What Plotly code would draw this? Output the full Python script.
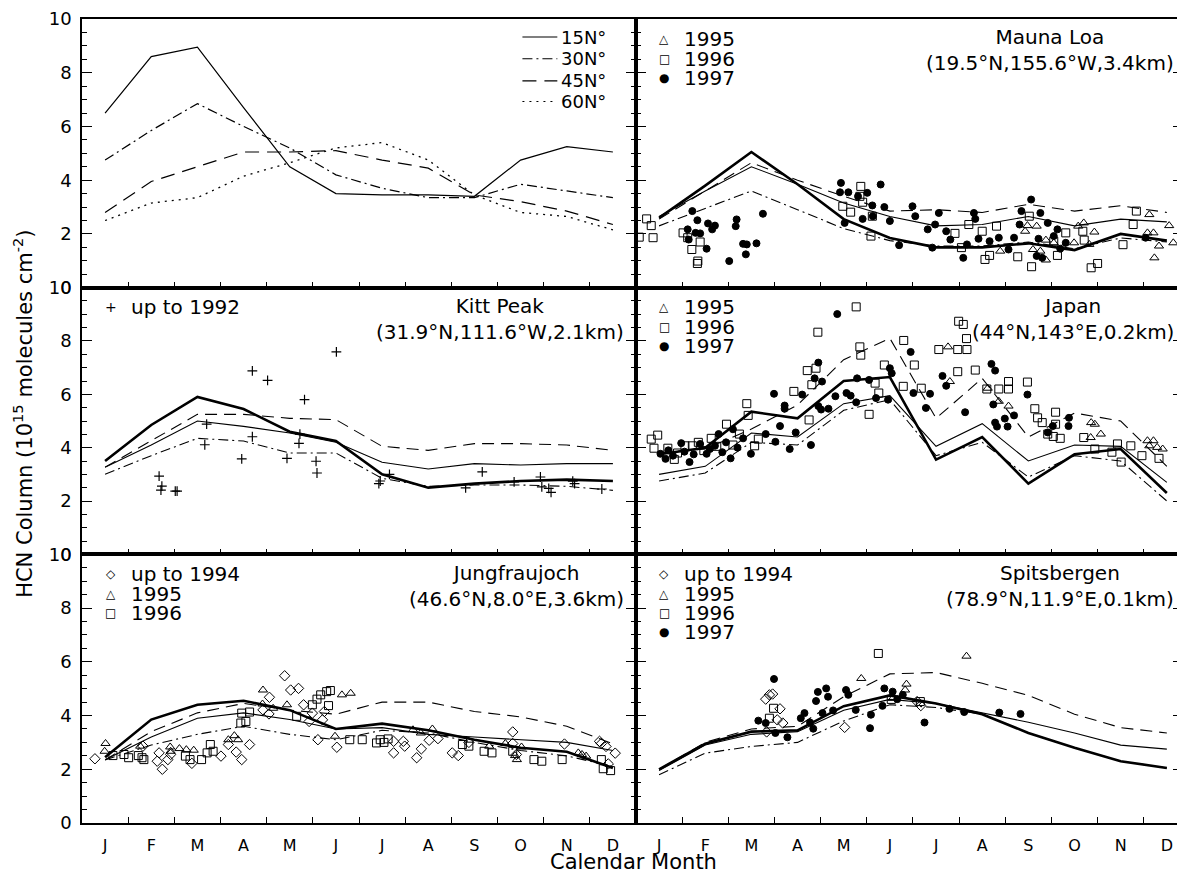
import plotly.graph_objects as go
from plotly.subplots import make_subplots

months = list(range(1, 13))
month_labels = ["J", "F", "M", "A", "M", "J", "J", "A", "S", "O", "N", "D"]
boundaries = [m + 0.5 for m in range(1, 12)]

# ---- Panel 1: model columns at four latitudes ----
lat_names = ["15N°", "30N°", "45N°", "60N°"]
lat15 = [6.5, 8.6, 8.95, 6.7, 4.5, 3.5, 3.45, 3.45, 3.4, 4.75, 5.25, 5.05]
lat30 = [4.75, 5.85, 6.85, 6.0, 5.2, 4.2, 3.7, 3.35, 3.35, 3.85, 3.6, 3.35]
lat45 = [2.8, 3.95, 4.5, 5.05, 5.05, 5.1, 4.75, 4.45, 3.45, 3.2, 2.85, 2.35]
lat60 = [2.5, 3.15, 3.35, 4.15, 4.65, 5.2, 5.4, 4.75, 3.45, 2.8, 2.65, 2.15]

# ---- Mauna Loa ----
ml_thick = [2.6, 3.8, 5.05, 3.85, 2.55, 1.85, 1.5, 1.5, 1.65, 1.4, 2.0, 1.75]
ml_thin = [2.65, 3.6, 4.5, 3.85, 3.15, 2.65, 2.3, 2.35, 2.65, 2.3, 2.55, 2.45]
ml_dash = [2.55, 3.6, 4.65, 4.0, 3.4, 2.85, 2.9, 2.8, 3.1, 2.85, 3.05, 2.8]
ml_dashdot = [2.3, 2.95, 3.6, 2.9, 2.2, 1.75, 1.55, 1.55, 1.7, 1.45, 1.85, 1.7]
ml_1995 = [(8.39, 1.36), (8.93, 2.10), (8.98, 2.31), (9.18, 2.29), (9.10, 1.42), (9.26, 1.36),
           (9.38, 1.03), (9.38, 1.77), (9.55, 1.67), (9.75, 1.49), (9.99, 1.67), (10.08, 2.29),
           (10.20, 2.41), (10.43, 2.07), (10.32, 1.61), (11.62, 2.72), (11.58, 2.04), (11.71, 2.04),
           (11.73, 1.11), (11.83, 1.55), (12.05, 2.31), (12.14, 1.67)]
ml_1996 = [(0.73, 2.56), (0.83, 2.31), (0.57, 1.88), (0.87, 1.86), (1.52, 2.04), (1.62, 1.86),
           (1.71, 1.42), (1.84, 0.99), (1.83, 0.90), (1.89, 1.70), (4.98, 3.03), (5.15, 2.81),
           (5.37, 3.77), (5.41, 3.18), (5.35, 3.40), (5.62, 2.66), (5.59, 1.92), (7.41, 2.02),
           (7.55, 1.49), (7.71, 2.35), (8.00, 2.10), (8.06, 1.05), (8.16, 1.20), (8.31, 2.29),
           (8.77, 1.15), (9.02, 2.66), (9.07, 0.78), (9.55, 1.73), (9.63, 1.20), (9.81, 2.04),
           (10.18, 2.10), (10.21, 1.77), (10.36, 0.74), (10.50, 0.90), (11.05, 1.60), (11.27, 2.35),
           (11.34, 2.85)]
ml_1997 = [(1.72, 2.85), (1.83, 2.51), (1.62, 2.17), (1.79, 2.04), (1.89, 2.02), (1.64, 1.79),
           (2.03, 1.45), (2.06, 2.39), (2.15, 2.17), (2.21, 2.31), (2.52, 0.99), (2.66, 2.29),
           (2.68, 2.54), (2.82, 1.63), (2.90, 1.61), (2.88, 1.24), (3.11, 1.65), (3.25, 2.75),
           (4.94, 3.90), (4.92, 3.55), (5.10, 3.55), (5.31, 3.40), (5.51, 3.53), (5.62, 3.06),
           (5.80, 3.84), (5.88, 3.00), (5.63, 2.66), (5.41, 2.56), (5.02, 2.41), (6.00, 2.48),
           (6.20, 1.58), (6.49, 3.03), (6.55, 2.66), (6.82, 2.17), (6.98, 2.35), (7.06, 2.78),
           (6.92, 1.49), (7.22, 2.10), (7.31, 1.79), (7.59, 1.11), (7.67, 1.61), (7.82, 2.78),
           (7.85, 2.56), (7.92, 1.82), (8.16, 1.73), (8.36, 1.86), (8.57, 1.42), (8.69, 1.86),
           (8.81, 2.35), (8.85, 2.85), (9.06, 3.28), (9.26, 2.78), (9.42, 2.41), (9.22, 1.82),
           (9.18, 1.18), (9.30, 1.11), (9.55, 1.92), (9.63, 2.17), (9.69, 1.45), (9.81, 1.67),
           (11.54, 1.86)]

# ---- Kitt Peak ----
kp_thick = [3.5, 4.85, 5.9, 5.45, 4.6, 4.25, 3.0, 2.5, 2.65, 2.75, 2.8, 2.75]
kp_thin = [3.27, 4.1, 5.0, 4.8, 4.55, 4.2, 3.45, 3.2, 3.4, 3.35, 3.4, 3.4]
kp_dash = [3.27, 4.25, 5.25, 5.25, 5.1, 5.05, 4.05, 3.9, 4.15, 4.15, 4.1, 3.9]
kp_dashdot = [3.0, 3.7, 4.35, 4.25, 3.8, 3.8, 2.85, 2.55, 2.6, 2.6, 2.55, 2.4]
kp_1992 = [(2.17, 2.93), (2.23, 2.56), (2.21, 2.41), (2.52, 2.37), (2.56, 2.37), (3.16, 4.11),
           (3.20, 4.88), (3.96, 3.58), (4.19, 6.88), (4.19, 4.41), (4.52, 6.52), (4.94, 3.60),
           (5.20, 4.16), (5.22, 4.51), (5.32, 5.80), (5.57, 3.49), (5.59, 3.05), (6.01, 7.59),
           (6.93, 2.65), (6.96, 2.75), (7.16, 3.00), (8.81, 2.49), (9.17, 3.09), (9.86, 2.72),
           (10.43, 2.90), (10.46, 2.53), (10.61, 2.47), (10.66, 2.32), (11.13, 2.74), (11.17, 2.65),
           (11.76, 2.45)]

# ---- Japan ----
jp_thick = [3.75, 4.0, 5.35, 5.1, 6.5, 6.65, 3.55, 4.4, 2.65, 3.75, 3.95, 2.3]
jp_thin = [3.0, 3.3, 4.55, 4.4, 5.65, 5.95, 4.05, 4.9, 3.5, 4.1, 4.05, 2.7]
jp_dash = [3.8, 3.95, 4.7, 5.6, 7.3, 8.1, 5.1, 6.6, 4.4, 5.3, 5.0, 3.3]
jp_dashdot = [2.75, 3.05, 4.2, 4.1, 5.4, 5.8, 3.7, 4.2, 2.9, 3.7, 3.5, 2.0]
jp_1995 = [(7.26, 7.78), (7.30, 6.48), (8.12, 6.23), (8.36, 5.74), (8.57, 5.56), (10.36, 4.94),
           (10.44, 4.88), (10.57, 4.51), (10.35, 4.38), (11.58, 4.26), (11.71, 4.26), (11.79, 4.01),
           (11.91, 3.95), (11.62, 4.07)]
jp_1996 = [(0.83, 4.32), (0.97, 4.47), (0.89, 3.98), (1.19, 3.98), (1.33, 3.56), (1.56, 4.07),
           (1.72, 4.07), (2.13, 4.35), (1.97, 3.89), (2.46, 4.88), (2.74, 4.51), (2.90, 5.65),
           (2.93, 5.21), (3.07, 4.07), (3.15, 4.32), (3.92, 6.11), (4.21, 6.89), (4.40, 6.98),
           (4.44, 8.33), (4.31, 6.36), (4.25, 5.04), (5.27, 9.28), (5.35, 7.78), (5.37, 7.47),
           (5.55, 5.25), (5.68, 6.42), (5.76, 6.05), (5.88, 7.10), (6.30, 8.02), (6.29, 6.30),
           (6.53, 7.10), (6.68, 6.23), (7.06, 7.68), (7.47, 7.68), (7.67, 7.68), (7.49, 8.74),
           (7.59, 8.62), (7.66, 8.09), (7.47, 6.85), (7.85, 6.91), (8.10, 6.20), (8.36, 6.20),
           (8.57, 6.48), (8.57, 6.20), (8.98, 6.46), (9.14, 5.46), (9.20, 5.12), (9.30, 4.94),
           (9.59, 5.33), (9.59, 4.88), (9.42, 4.51), (9.54, 4.42), (9.69, 4.35), (10.20, 4.38),
           (10.44, 3.95), (10.93, 4.14), (11.01, 3.46), (11.22, 4.07), (11.46, 3.70), (11.83, 3.60),
           (10.81, 3.83), (1.40, 3.80), (1.85, 4.20), (2.25, 4.05), (2.60, 4.10)]
jp_1997 = [(1.03, 3.77), (1.14, 3.58), (1.48, 4.17), (1.66, 3.46), (1.89, 4.14), (2.03, 3.77),
           (2.21, 4.07), (2.37, 3.83), (2.55, 3.60), (2.60, 4.69), (2.29, 4.51), (2.82, 4.35),
           (2.99, 3.77), (3.31, 4.51), (3.52, 4.22), (3.49, 6.02), (3.62, 4.81), (3.72, 5.58),
           (3.72, 5.46), (3.83, 3.95), (3.96, 4.57), (4.10, 5.99), (4.29, 4.10), (4.37, 6.60),
           (4.45, 7.19), (4.53, 6.48), (4.45, 5.56), (4.51, 5.43), (4.67, 5.46), (4.82, 5.93),
           (4.86, 9.01), (5.06, 6.05), (5.15, 5.95), (5.27, 5.70), (5.29, 6.60), (5.55, 6.54),
           (5.70, 5.86), (5.96, 5.80), (6.00, 6.98), (6.04, 6.79), (6.45, 7.59), (6.51, 6.05),
           (6.78, 5.49), (6.87, 6.02), (7.14, 6.69), (7.22, 6.32), (7.63, 5.33), (8.20, 7.14),
           (8.28, 6.89), (8.24, 5.62), (8.28, 4.94), (8.32, 4.79), (8.49, 5.09), (8.55, 4.79),
           (8.69, 5.21), (8.98, 5.99), (9.42, 4.57), (9.53, 4.81), (9.87, 4.81), (9.88, 5.12),
           (1.20, 3.90), (1.30, 3.70), (1.55, 3.85), (1.75, 3.75), (2.10, 3.95), (2.45, 4.20),
           (2.70, 4.00)]

# ---- Jungfraujoch ----
jf_thick = [2.45, 3.85, 4.4, 4.55, 4.2, 3.5, 3.7, 3.45, 3.1, 2.8, 2.65, 2.05]
jf_thin = [2.35, 3.2, 3.9, 4.1, 3.85, 3.5, 3.55, 3.3, 3.2, 3.1, 3.0, 2.7]
jf_dash = [2.35, 3.4, 4.1, 4.45, 4.2, 4.05, 4.5, 4.5, 4.15, 3.95, 3.6, 2.95]
jf_dashdot = [2.35, 2.9, 3.3, 3.6, 3.3, 3.1, 3.45, 3.35, 3.0, 2.7, 2.5, 2.1]
jf_1994 = [(0.78, 2.39), (1.82, 2.86), (2.17, 2.61), (2.13, 2.30), (2.24, 2.00), (2.36, 2.36),
           (2.42, 2.55), (2.88, 2.22), (3.51, 2.49), (3.67, 2.92), (3.84, 2.64), (3.96, 2.36),
           (4.13, 2.92), (4.42, 4.21), (4.56, 4.68), (4.55, 4.06), (4.89, 5.48), (5.02, 4.95),
           (5.19, 5.01), (5.30, 4.40), (5.42, 3.78), (5.49, 4.09), (5.71, 3.84), (5.75, 4.15),
           (5.61, 3.10), (6.02, 2.82), (7.25, 3.04), (7.25, 2.61), (7.46, 3.04), (7.49, 2.86),
           (7.75, 2.43), (7.85, 2.76), (8.02, 3.08), (8.21, 3.14), (8.52, 2.61), (8.65, 2.51),
           (8.88, 3.00), (9.83, 3.39), (9.83, 2.96), (9.91, 2.55), (10.95, 2.94), (11.71, 3.04),
           (11.75, 2.96), (11.85, 2.85), (11.90, 2.20), (12.05, 2.60)]
jf_1995 = [(1.01, 2.96), (0.99, 2.67), (1.76, 2.86), (2.41, 2.83), (2.42, 2.67), (2.61, 2.77),
           (2.76, 2.73), (2.92, 2.71), (3.67, 3.10), (3.80, 3.25), (3.88, 3.10), (4.42, 4.95),
           (4.41, 4.43), (4.64, 4.27), (4.94, 4.40), (6.13, 4.77), (6.32, 4.83), (5.98, 3.23),
           (7.67, 3.47), (7.84, 3.35), (8.09, 3.50), (9.32, 2.86), (9.67, 2.96), (9.88, 2.51),
           (9.92, 2.36), (10.02, 2.83), (11.25, 2.61), (11.33, 2.55), (11.42, 2.49)]
jf_1996 = [(1.17, 2.51), (1.41, 2.55), (1.51, 2.43), (1.72, 2.51), (1.80, 2.43), (1.84, 2.36),
           (2.74, 2.49), (2.84, 2.36), (3.09, 2.36), (3.21, 2.61), (3.28, 2.92), (3.34, 2.67),
           (3.94, 3.72), (4.05, 3.78), (3.96, 4.09), (4.13, 4.13), (5.15, 3.97), (5.49, 4.40),
           (5.59, 4.61), (5.67, 4.77), (5.80, 4.89), (5.84, 4.37), (5.88, 4.93), (6.30, 3.10),
           (6.57, 3.10), (6.88, 2.98), (6.96, 3.10), (7.04, 3.00), (7.13, 3.13), (8.74, 2.92),
           (8.88, 2.86), (9.21, 2.67), (9.38, 2.61), (9.83, 2.67), (10.29, 2.36), (10.46, 2.30),
           (10.90, 2.36), (11.75, 2.36), (11.79, 2.02), (11.95, 1.95)]

# ---- Spitsbergen ----
sp_thick = [2.0, 2.95, 3.4, 3.45, 4.35, 4.75, 4.45, 4.05, 3.35, 2.8, 2.3, 2.05]
sp_thin = [1.95, 2.9, 3.3, 3.4, 4.2, 4.6, 4.45, 4.1, 3.75, 3.35, 2.9, 2.75]
sp_dash = [2.0, 3.0, 3.5, 3.6, 4.7, 5.55, 5.6, 5.2, 4.75, 4.05, 3.55, 3.35]
sp_dashdot = [1.8, 2.6, 2.85, 3.0, 3.8, 4.4, 4.3, 4.05, 3.35, 2.8, 2.3, 2.05]
sp_1994 = [(3.31, 4.61), (3.39, 4.77), (3.46, 4.80), (3.56, 3.84), (3.62, 4.25), (3.68, 3.72),
           (3.33, 3.39), (5.02, 3.56), (6.67, 4.37), (6.59, 4.52)]
sp_1995 = [(5.38, 5.38), (6.36, 5.17), (6.33, 4.95), (7.66, 6.21), (6.06, 4.64)]
sp_1996 = [(5.75, 6.31), (3.48, 4.27), (3.39, 3.90), (6.03, 4.60), (6.66, 4.52)]
sp_1997 = [(3.49, 5.36), (3.15, 3.81), (3.31, 3.72), (3.52, 3.35), (3.78, 3.19), (4.07, 3.90),
           (4.15, 4.09), (4.27, 3.74), (4.34, 3.51), (4.40, 4.54), (4.44, 4.88), (4.54, 4.09),
           (4.62, 5.01), (4.66, 4.70), (4.77, 4.19), (5.05, 4.95), (5.10, 4.77), (5.26, 4.21),
           (5.57, 3.53), (5.59, 4.03), (5.84, 4.36), (5.88, 5.01), (6.06, 4.89), (6.16, 4.61),
           (6.28, 4.77), (6.75, 3.74), (7.29, 4.25), (7.61, 4.13), (8.37, 4.11), (8.83, 4.06)]

FONT = "DejaVu Sans, Liberation Sans, sans-serif"
DASH = "12px,7px"
DASHDOT = "10px,4px,2px,4px"

fig = make_subplots(rows=3, cols=2, horizontal_spacing=0, vertical_spacing=0,
                    column_widths=[555, 548], row_heights=[270, 268, 270])


def add_line(vals, row, col, width=1.2, dash="solid"):
    fig.add_trace(go.Scatter(x=months, y=vals, mode="lines",
                             line=dict(color="black", width=width, dash=dash),
                             showlegend=False, hoverinfo="skip"), row=row, col=col)


def add_pts(pairs, row, col, symbol, size=8, lw=1.0):
    xs = [p[0] for p in pairs]
    ys = [p[1] for p in pairs]
    fig.add_trace(go.Scatter(x=xs, y=ys, mode="markers",
                             marker=dict(symbol=symbol, size=size, color="black",
                                         line=dict(color="black", width=lw)),
                             showlegend=False, hoverinfo="skip"), row=row, col=col)


def add_model(thick, thin, dash, dashdot, row, col):
    add_line(thin, row, col, 1.1)
    add_line(dash, row, col, 1.1, DASH)
    add_line(dashdot, row, col, 1.1, DASHDOT)
    add_line(thick, row, col, 2.6)


# panel 1
add_line(lat15, 1, 1, 1.2, "solid")
add_line(lat30, 1, 1, 1.2, DASHDOT)
add_line(lat45, 1, 1, 1.2, "14px,8px")
add_line(lat60, 1, 1, 1.3, "2px,5px")

# Mauna Loa
add_model(ml_thick, ml_thin, ml_dash, ml_dashdot, 1, 2)
add_pts(ml_1995, 1, 2, "triangle-up-open", 8)
add_pts(ml_1996, 1, 2, "square-open", 8)
add_pts(ml_1997, 1, 2, "circle", 7)

# Kitt Peak
add_model(kp_thick, kp_thin, kp_dash, kp_dashdot, 2, 1)
add_pts(kp_1992, 2, 1, "cross-thin", 7, 1.2)

# Japan
add_model(jp_thick, jp_thin, jp_dash, jp_dashdot, 2, 2)
add_pts(jp_1995, 2, 2, "triangle-up-open", 8)
add_pts(jp_1996, 2, 2, "square-open", 8)
add_pts(jp_1997, 2, 2, "circle", 7)

# Jungfraujoch
add_model(jf_thick, jf_thin, jf_dash, jf_dashdot, 3, 1)
add_pts(jf_1994, 3, 1, "diamond-open", 8)
add_pts(jf_1995, 3, 1, "triangle-up-open", 8)
add_pts(jf_1996, 3, 1, "square-open", 8)

# Spitsbergen
add_model(sp_thick, sp_thin, sp_dash, sp_dashdot, 3, 2)
add_pts(sp_1994, 3, 2, "diamond-open", 8)
add_pts(sp_1995, 3, 2, "triangle-up-open", 8)
add_pts(sp_1996, 3, 2, "square-open", 8)
add_pts(sp_1997, 3, 2, "circle", 7)

for r in range(1, 4):
    for c in range(1, 3):
        fig.update_xaxes(range=[0.5, 12.5] if c == 1 else [0.5, 12.35],
                         tickmode="array", tickvals=months, ticktext=month_labels,
                         ticks="", showticklabels=(r == 3), ticklabelstandoff=7,
                         tickfont=dict(family=FONT, size=16, color="black"),
                         minor=dict(tickmode="array", tickvals=boundaries, ticks="inside",
                                    ticklen=6, tickwidth=1, tickcolor="black"),
                         showline=True, linecolor="black", linewidth=1.5, mirror=True,
                         showgrid=False, zeroline=False, row=r, col=c)
        fig.update_yaxes(range=[0, 10], tickmode="array", tickvals=[0, 2, 4, 6, 8, 10],
                         ticks="inside", ticklen=10, tickwidth=1.2, tickcolor="black",
                         minor=dict(dtick=0.5, tick0=0, ticks="inside", ticklen=5,
                                    tickwidth=1, tickcolor="black"),
                         showticklabels=(c == 1), ticklabelstandoff=5,
                         tickfont=dict(family=FONT, size=18, color="black"),
                         showline=True, linecolor="black", linewidth=1.5, mirror="ticks",
                         showgrid=False, zeroline=False, row=r, col=c)

annotations = []
shapes = []
TXT = dict(family=FONT, size=20, color="black")

# station labels
stations = [
    ("x2", "y2", "Mauna Loa<br>(19.5°N,155.6°W,3.4km)", 0.987),
    ("x3", "y3", "Kitt Peak<br>(31.9°N,111.6°W,2.1km)", 0.982),
    ("x4", "y4", "Japan<br>(44°N,143°E,0.2km)", 0.987),
    ("x5", "y5", "Jungfraujoch<br>(46.6°N,8.0°E,3.6km)", 0.982),
    ("x6", "y6", "Spitsbergen<br>(78.9°N,11.9°E,0.1km)", 0.987),
]
for xa, ya, txt, xpos in stations:
    annotations.append(dict(xref=xa + " domain", yref=ya + " domain", x=xpos, y=0.883,
                            xanchor="right", yanchor="middle", align="center",
                            text=txt, showarrow=False, font=TXT))

# in-panel legends (symbol glyph + label)
row_y = [0.926, 0.851, 0.781, 0.71]
legends = [
    ("x2", "y2", [("△", "1995"), ("□", "1996"), ("●", "1997")]),
    ("x3", "y3", [("+", "up to 1992")]),
    ("x4", "y4", [("△", "1995"), ("□", "1996"), ("●", "1997")]),
    ("x5", "y5", [("◇", "up to 1994"), ("△", "1995"), ("□", "1996")]),
    ("x6", "y6", [("◇", "up to 1994"), ("△", "1995"), ("□", "1996"), ("●", "1997")]),
]
for xa, ya, items in legends:
    for i, (sym, lab) in enumerate(items):
        annotations.append(dict(xref=xa + " domain", yref=ya + " domain", x=0.052, y=row_y[i],
                                xanchor="center", yanchor="middle", text=sym, showarrow=False,
                                borderpad=0,
                                font=dict(family="DejaVu Sans", size=12 if sym != "+" else 14,
                                          color="black")))
        annotations.append(dict(xref=xa + " domain", yref=ya + " domain", x=0.086, y=row_y[i],
                                xanchor="left", yanchor="middle", text=lab, showarrow=False,
                                borderpad=0, font=TXT))

# latitude legend in panel 1
lat_y = [0.933, 0.852, 0.770, 0.693]
lat_dash = ["solid", DASHDOT, "14px,8px", "2px,5px"]
for i in range(4):
    shapes.append(dict(type="line", xref="x domain", yref="y domain", x0=0.795, x1=0.858,
                       y0=lat_y[i], y1=lat_y[i], line=dict(color="black", width=1.2,
                                                           dash=lat_dash[i])))
    annotations.append(dict(xref="x domain", yref="y domain", x=0.862, y=lat_y[i],
                            xanchor="left", yanchor="middle", text=lat_names[i], borderpad=0,
                            showarrow=False, font=dict(family=FONT, size=18, color="black")))

# axis titles
annotations.append(dict(xref="paper", yref="paper", x=-0.0535, y=0.509, xanchor="center",
                        yanchor="middle", textangle=-90, showarrow=False,
                        font=dict(family=FONT, size=21, color="black"),
                        text="HCN Column (10<sup>15</sup> molecules cm<sup>-2</sup>)"))
annotations.append(dict(xref="paper", yref="paper", x=0.501, y=-0.049, xanchor="center",
                        yanchor="middle", showarrow=False, borderpad=0,
                        font=dict(family=FONT, size=21, color="black"),
                        text="Calendar Month"))

# the page body has an 8px margin, so the figure is sized to end at the window edge
fig.update_layout(width=1177, height=866, margin=dict(l=74, r=0, t=7, b=51),
                  plot_bgcolor="white", paper_bgcolor="white",
                  annotations=annotations, shapes=shapes, showlegend=False,
                  font=dict(family=FONT, color="black"))

fig.write_html("out.html")
